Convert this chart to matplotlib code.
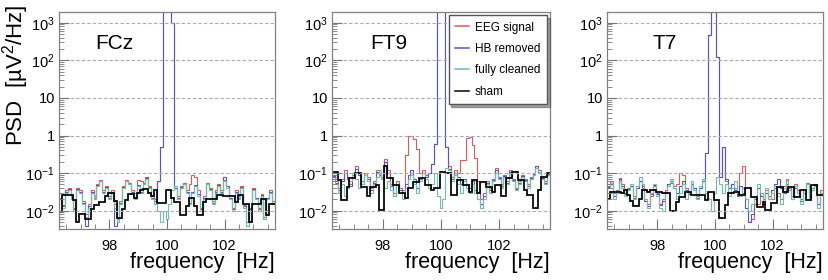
import numpy as np
import matplotlib
matplotlib.use("Agg")
import matplotlib.pyplot as plt
from matplotlib.ticker import MultipleLocator, LogLocator, NullFormatter

plt.rcParams['font.family'] = ['Liberation Sans', 'DejaVu Sans']
plt.rcParams['mathtext.fontset'] = 'custom'
plt.rcParams['mathtext.rm'] = 'Liberation Sans'
plt.rcParams['mathtext.it'] = 'Liberation Sans:italic'
plt.rcParams['mathtext.bf'] = 'Liberation Sans:bold'

# frequency binning (0.1 Hz bins, 96.25 .. 103.75 Hz)
f_lo = 96.25
f_hi = 103.75
nbins = 75
OFF = 1e5   # values above the plotted range (line spike leaves the frame)

channels = ["FCz", "FT9", "T7"]
labels = ["EEG signal", "HB removed", "fully cleaned", "sham"]
colors = ["#dd5a5a", "#5555cc", "#72bfa8", "#000000"]

# ---- FCz ----
fcz_eeg = [0.022, 0.014, 0.035, 0.04, 0.025, 0.012, 0.04, 0.035, 0.018, 0.008,
           0.015, 0.035, 0.025, 0.05, 0.065, 0.035, 0.045, 0.025, 0.035, 0.015,
           0.006, 0.018, 0.045, 0.065, 0.055, 0.035, 0.03, 0.065, 0.06, 0.055,
           0.075, 0.045, 0.025, 0.02, 0.06, 0.5, OFF, OFF, OFF, 1000,
           0.04, 0.025, 0.045, 0.055, 0.035, 0.05, 0.09, 0.08, 0.035, 0.012,
           0.025, 0.055, 0.04, 0.018, 0.035, 0.05, 0.035, 0.065, 0.045, 0.022,
           0.012, 0.035, 0.025, 0.045, 0.014, 0.005, 0.012, 0.04, 0.022, 0.012,
           0.028, 0.007, 0.022, 0.035, 0.018]
fcz_hb = [0.021, 0.013, 0.032, 0.038, 0.022, 0.011, 0.038, 0.032, 0.016, 0.004,
          0.013, 0.032, 0.022, 0.048, 0.062, 0.032, 0.042, 0.022, 0.032, 0.004,
          0.005, 0.016, 0.042, 0.062, 0.052, 0.032, 0.022, 0.048, 0.032, 0.052,
          0.08, 0.042, 0.022, 0.018, 0.06, 0.5, OFF, OFF, OFF, 1000,
          0.04, 0.022, 0.042, 0.052, 0.032, 0.016, 0.032, 0.048, 0.028, 0.011,
          0.022, 0.052, 0.038, 0.016, 0.032, 0.048, 0.032, 0.08, 0.045, 0.022,
          0.011, 0.032, 0.022, 0.042, 0.013, 0.004, 0.011, 0.038, 0.022, 0.011,
          0.026, 0.006, 0.022, 0.032, 0.016]
fcz_clean = [0.02, 0.012, 0.03, 0.035, 0.02, 0.01, 0.035, 0.03, 0.015, 0.007,
             0.012, 0.03, 0.02, 0.045, 0.06, 0.03, 0.04, 0.02, 0.03, 0.012,
             0.005, 0.015, 0.04, 0.06, 0.05, 0.03, 0.02, 0.045, 0.03, 0.05,
             0.07, 0.04, 0.02, 0.015, 0.01, 0.005, 0.01, 0.006, 0.015, 0.035,
             0.045, 0.02, 0.04, 0.05, 0.03, 0.015, 0.03, 0.045, 0.025, 0.01,
             0.02, 0.05, 0.035, 0.015, 0.03, 0.045, 0.03, 0.06, 0.04, 0.02,
             0.01, 0.03, 0.02, 0.04, 0.012, 0.004, 0.01, 0.035, 0.02, 0.01,
             0.025, 0.006, 0.02, 0.03, 0.015]
fcz_sham = [0.009, 0.026, 0.026, 0.026, 0.026, 0.019, 0.005, 0.008, 0.008, 0.006,
            0.006, 0.011, 0.014, 0.014, 0.017, 0.017, 0.025, 0.03, 0.03, 0.018,
            0.0065, 0.0065, 0.011, 0.019, 0.028, 0.028, 0.022, 0.03, 0.035, 0.037,
            0.037, 0.03, 0.025, 0.035, 0.016, 0.016, 0.016, 0.035, 0.035, 0.022,
            0.017, 0.017, 0.0076, 0.0076, 0.013, 0.022, 0.022, 0.013, 0.0076, 0.0076,
            0.017, 0.02, 0.02, 0.02, 0.02, 0.026, 0.026, 0.024, 0.024, 0.024,
            0.024, 0.017, 0.026, 0.026, 0.015, 0.015, 0.005, 0.015, 0.015, 0.015,
            0.02, 0.02, 0.0076, 0.015, 0.015]

# ---- FT9 ----
ft9_eeg = [0.09, 0.06, 0.04, 0.07, 0.12, 0.08, 0.05, 0.09, 0.15, 0.1,
           0.06, 0.1, 0.08, 0.04, 0.06, 0.12, 0.1, 0.08, 0.24, 0.12,
           0.05, 0.03, 0.06, 0.04, 0.035, 0.3, 1.0, 1.0, 0.8, 0.45,
           0.1, 0.12, 0.09, 0.1, 0.18, 0.6, OFF, OFF, OFF, 0.5,
           0.15, 0.08, 0.12, 0.1, 0.22, 0.22, 0.85, 0.9, 0.55, 0.25,
           0.06, 0.02, 0.03, 0.06, 0.04, 0.07, 0.14, 0.08, 0.05, 0.09,
           0.06, 0.12, 0.07, 0.04, 0.06, 0.09, 0.07, 0.05, 0.08, 0.1,
           0.15, 0.12, 0.08, 0.06, 0.1]
ft9_hb = [0.085, 0.055, 0.035, 0.06, 0.1, 0.07, 0.045, 0.08, 0.13, 0.09,
          0.05, 0.09, 0.07, 0.035, 0.055, 0.11, 0.09, 0.07, 0.2, 0.1,
          0.045, 0.025, 0.05, 0.035, 0.03, 0.05, 0.09, 0.12, 0.07, 0.04,
          0.07, 0.1, 0.08, 0.1, 0.18, 0.6, OFF, OFF, OFF, 0.5,
          0.13, 0.07, 0.1, 0.08, 0.05, 0.07, 0.05, 0.04, 0.06, 0.035,
          0.02, 0.015, 0.025, 0.055, 0.035, 0.065, 0.12, 0.075, 0.045, 0.085,
          0.055, 0.11, 0.065, 0.038, 0.055, 0.085, 0.065, 0.045, 0.075, 0.095,
          0.15, 0.11, 0.075, 0.055, 0.095]
ft9_clean = [0.08, 0.05, 0.03, 0.05, 0.025, 0.04, 0.06, 0.1, 0.07, 0.04,
             0.05, 0.09, 0.06, 0.03, 0.05, 0.08, 0.12, 0.07, 0.04, 0.06,
             0.035, 0.025, 0.05, 0.03, 0.02, 0.04, 0.07, 0.09, 0.05, 0.03,
             0.06, 0.1, 0.07, 0.04, 0.05, 0.1, 0.025, 0.012, 0.02, 0.14,
             0.12, 0.06, 0.09, 0.05, 0.03, 0.06, 0.04, 0.03, 0.05, 0.03,
             0.02, 0.012, 0.02, 0.05, 0.03, 0.06, 0.1, 0.07, 0.04, 0.08,
             0.05, 0.1, 0.06, 0.035, 0.05, 0.08, 0.06, 0.04, 0.07, 0.09,
             0.14, 0.11, 0.07, 0.05, 0.09]
ft9_sham = [0.11, 0.11, 0.065, 0.019, 0.019, 0.044, 0.073, 0.073, 0.099, 0.099,
            0.044, 0.044, 0.024, 0.044, 0.044, 0.048, 0.0105, 0.0105, 0.15, 0.073,
            0.073, 0.048, 0.048, 0.029, 0.029, 0.022, 0.04, 0.04, 0.059, 0.059,
            0.073, 0.073, 0.048, 0.048, 0.035, 0.04, 0.04, 0.11, 0.11, 0.099,
            0.099, 0.026, 0.026, 0.065, 0.065, 0.048, 0.048, 0.032, 0.065, 0.065,
            0.029, 0.059, 0.059, 0.044, 0.044, 0.032, 0.048, 0.048, 0.024, 0.024,
            0.073, 0.073, 0.11, 0.11, 0.065, 0.065, 0.035, 0.026, 0.026, 0.0116,
            0.0116, 0.035, 0.08, 0.08, 0.099]

# ---- T7 ----
t7_eeg = [0.045, 0.06, 0.03, 0.035, 0.075, 0.05, 0.03, 0.04, 0.045, 0.025,
          0.04, 0.06, 0.04, 0.02, 0.015, 0.025, 0.045, 0.03, 0.015, 0.02,
          0.035, 0.05, 0.06, 0.045, 0.05, 0.1, 0.09, 0.04, 0.03, 0.05,
          0.04, 0.025, 0.04, 0.06, 0.34, 470, OFF, OFF, 125, 0.08,
          0.5, 0.06, 0.03, 0.05, 0.04, 0.03, 0.1, 0.15, 0.02, 0.005,
          0.006, 0.015, 0.015, 0.03, 0.02, 0.035, 0.025, 0.02, 0.04, 0.03,
          0.02, 0.045, 0.07, 0.04, 0.025, 0.05, 0.035, 0.02, 0.035, 0.055,
          0.025, 0.04, 0.05, 0.015, 0.035]
t7_hb = [0.042, 0.05, 0.025, 0.03, 0.07, 0.045, 0.028, 0.038, 0.045, 0.022,
         0.04, 0.06, 0.045, 0.018, 0.013, 0.028, 0.048, 0.028, 0.014, 0.018,
         0.032, 0.05, 0.055, 0.04, 0.03, 0.045, 0.06, 0.035, 0.028, 0.05,
         0.04, 0.022, 0.04, 0.06, 0.34, 470, OFF, OFF, 125, 0.08,
         0.5, 0.07, 0.04, 0.05, 0.035, 0.025, 0.045, 0.03, 0.012, 0.005,
         0.008, 0.02, 0.04, 0.025, 0.015, 0.03, 0.02, 0.035, 0.05, 0.07,
         0.04, 0.03, 0.05, 0.035, 0.02, 0.04, 0.03, 0.018, 0.03, 0.05,
         0.022, 0.035, 0.05, 0.015, 0.03]
t7_clean = [0.04, 0.055, 0.02, 0.03, 0.06, 0.04, 0.025, 0.035, 0.05, 0.02,
            0.045, 0.08, 0.05, 0.02, 0.012, 0.03, 0.05, 0.025, 0.012, 0.01,
            0.03, 0.045, 0.07, 0.04, 0.02, 0.03, 0.05, 0.02, 0.03, 0.06,
            0.035, 0.02, 0.045, 0.07, 0.03, 0.02, 0.01, 0.03, 0.08, 0.05,
            0.03, 0.05, 0.025, 0.04, 0.06, 0.03, 0.025, 0.04, 0.02, 0.01,
            0.015, 0.025, 0.05, 0.03, 0.015, 0.04, 0.02, 0.03, 0.045, 0.025,
            0.015, 0.04, 0.06, 0.035, 0.02, 0.045, 0.03, 0.015, 0.03, 0.05,
            0.02, 0.035, 0.045, 0.012, 0.03]
t7_sham = [0.02, 0.032, 0.032, 0.032, 0.032, 0.029, 0.035, 0.026, 0.018, 0.013,
           0.013, 0.021, 0.035, 0.035, 0.032, 0.035, 0.035, 0.032, 0.032, 0.029,
           0.029, 0.029, 0.01, 0.01, 0.017, 0.0235, 0.0235, 0.032, 0.032, 0.026,
           0.026, 0.026, 0.026, 0.026, 0.019, 0.032, 0.032, 0.019, 0.019, 0.0063,
           0.0063, 0.014, 0.029, 0.029, 0.032, 0.032, 0.026, 0.026, 0.039, 0.039,
           0.0235, 0.0235, 0.0128, 0.0128, 0.017, 0.0104, 0.0104, 0.0157, 0.0157, 0.043,
           0.043, 0.032, 0.032, 0.043, 0.043, 0.0235, 0.0235, 0.035, 0.035, 0.019,
           0.019, 0.048, 0.048, 0.026, 0.026]

panels = [
    [fcz_eeg, fcz_hb, fcz_clean, fcz_sham],
    [ft9_eeg, ft9_hb, ft9_clean, ft9_sham],
    [t7_eeg, t7_hb, t7_clean, t7_sham],
]

edges = np.linspace(f_lo, f_hi, nbins + 1)

fig = plt.figure(figsize=(8.29, 2.8), dpi=100)
lefts = [59 / 829, 332 / 829, 607 / 829]
widths = [216 / 829, 218 / 829, 216 / 829]
bottom = 1 - 229 / 280
height = 217 / 280
title_x = [0.167, 0.175, 0.21]

yticks = [1e-2, 1e-1, 1, 10, 1e2, 1e3]
ylabels = ["$10^{-2}$", "$10^{-1}$", "1", "10", "$10^{2}$", "$10^{3}$"]

for k in range(3):
    ax = fig.add_axes([lefts[k], bottom, widths[k], height])
    for s in range(4):
        lw = 1.25 if s == 3 else 0.8
        ax.stairs(panels[k][s], edges, color=colors[s], lw=lw, label=labels[s],
                  baseline=None)
    ax.set_yscale("log")
    ax.set_xlim(f_lo, f_hi)
    ax.set_ylim(0.00326, 1930)
    ax.set_yticks(yticks, labels=ylabels)
    ax.yaxis.set_minor_locator(LogLocator(base=10, subs=np.arange(2, 10), numticks=20))
    ax.yaxis.set_minor_formatter(NullFormatter())
    ax.set_xticks([98, 100, 102])
    ax.xaxis.set_minor_locator(MultipleLocator(0.5))
    ax.tick_params(which="both", direction="in", color="#777777", labelsize=10.5)
    ax.tick_params(axis="x", which="major", length=7, pad=7)
    ax.tick_params(axis="x", which="minor", length=3.5)
    ax.tick_params(axis="y", which="major", length=7, pad=3)
    ax.tick_params(axis="y", which="minor", length=3.5)
    for sp in ax.spines.values():
        sp.set_color("#808080")
        sp.set_linewidth(0.9)
    ax.grid(True, axis="y", which="major", color="#aaaaaa", lw=0.8,
            linestyle=(0, (3, 2)))
    ax.text(title_x[k], 0.857, channels[k], transform=ax.transAxes,
            fontsize=15, ha="left", va="center")
    ax.text(1.0, -0.155, "frequency  [Hz]", transform=ax.transAxes,
            fontsize=15.5, ha="right", va="center")
    if k == 1:
        leg = ax.legend(loc="upper right", bbox_to_anchor=(0.986, 0.986),
                        fontsize=8.5, handlelength=1.2, handletextpad=0.5,
                        labelspacing=0.8, borderpad=0.55, borderaxespad=0,
                        fancybox=False, shadow=True,
                        framealpha=1, edgecolor="#555555")
        for h in leg.get_lines():
            h.set_linewidth(1.1)

fig.text(15.5 / 829, 1 - 5 / 280, "PSD  [µV$^{2}$/Hz]", rotation=90,
         fontsize=16, ha="center", va="top")

fig.savefig("out.png", dpi=100)
